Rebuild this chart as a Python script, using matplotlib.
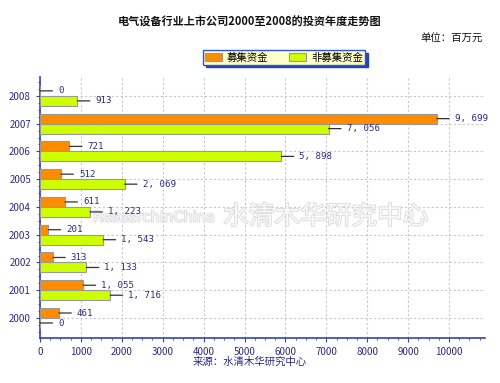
import numpy as np
import matplotlib.pyplot as plt
import matplotlib.patheffects as pe
from matplotlib.ticker import MultipleLocator

plt.rcParams['font.family'] = ['Noto Sans CJK SC', 'DejaVu Sans']

# data (百万元)
years = ['2000', '2001', '2002', '2003', '2004', '2005', '2006', '2007', '2008']
raised = [461, 1055, 313, 201, 611, 512, 721, 9699, 0]        # 募集资金
non_raised = [0, 1716, 1133, 1543, 1223, 2069, 5898, 7056, 913]  # 非募集资金

navy = '#2b2b80'
axis_blue = '#3344aa'

fig = plt.figure(figsize=(5, 3.83), dpi=100)
ax = fig.add_axes([0.08, 0.1175, 0.89, 0.6815])

y = np.arange(len(years))
h = 0.36
b1 = ax.barh(y + h / 2, raised, height=h, color='#ff8c00', edgecolor='#999999', lw=0.8, zorder=3, label='募集资金')
b2 = ax.barh(y - h / 2, non_raised, height=h, color='#ccff00', edgecolor='#999999', lw=0.8, zorder=3, label='非募集资金')

for bars, vals in ((b1, raised), (b2, non_raised)):
    for bar, v in zip(bars, vals):
        yc = bar.get_y() + bar.get_height() / 2
        ax.annotate(f'{v:,}'.replace(',', ', '), xy=(v, yc), xytext=(18, 0), textcoords='offset pixels',
                    ha='left', va='center', fontsize=6.6, color=navy, family='DejaVu Sans Mono',
                    arrowprops=dict(arrowstyle='-', color='#333333', lw=0.9, shrinkA=2, shrinkB=0,
                                    relpos=(0, 0.5)), zorder=5)

ax.set_xlim(0, 10880)
ax.set_ylim(-0.72, 8.68)
ax.set_yticks(y)
ax.set_yticklabels(years)
ax.xaxis.set_major_locator(MultipleLocator(1000))
ax.xaxis.set_minor_locator(MultipleLocator(250))
ax.yaxis.set_minor_locator(MultipleLocator(0.25))
ax.tick_params(axis='both', colors=axis_blue, labelcolor=navy, labelsize=7, length=3, direction='out')
ax.tick_params(which='minor', colors=axis_blue, length=1.5)
ax.grid(True, color='#c8c8c8', ls=(0, (2, 2)), lw=0.8, zorder=0)
for s in ('top', 'right'):
    ax.spines[s].set_visible(False)
for s in ('left', 'bottom'):
    ax.spines[s].set_color(axis_blue)
    ax.spines[s].set_linewidth(1.2)

fig.text(0.5, 0.942, '电气设备行业上市公司2000至2008的投资年度走势图', ha='center', va='center',
         fontsize=8, fontweight='bold', color='#111111')
fig.text(0.965, 0.898, '单位：百万元', ha='right', va='center', fontsize=7.5, color='#111111')
fig.text(0.5, 0.055, '来源：水清木华研究中心', ha='center', va='center', fontsize=7.5, color='#2a2a80')

# watermark (embossed look), between bars and value labels
wm_fx = [pe.withStroke(linewidth=1.2, foreground='#dadada')]
ax.text(0.432, 0.433, 'ResearchInChina', transform=fig.transFigure, ha='right', va='center',
        fontsize=10.5, color='#f8f8f8', family='DejaVu Sans Condensed',
        zorder=4, path_effects=wm_fx)
ax.text(0.446, 0.433, '水清木华研究中心', transform=fig.transFigure, ha='left', va='center',
        fontsize=18.5, color='#f8f8f8', zorder=4, path_effects=wm_fx)

leg = fig.legend(handles=[b1, b2], loc='center', bbox_to_anchor=(0.568, 0.85), ncol=2, fontsize=7.5,
                 frameon=True, fancybox=False, shadow={'color': '#2244bb', 'alpha': 1},
                 handlelength=1.6, handleheight=0.7,
                 columnspacing=2.0, borderpad=0.2, handletextpad=0.5)
leg.get_frame().set_facecolor('#ffffcc')
leg.get_frame().set_edgecolor('#3355cc')

fig.savefig('out.png', dpi=100)
